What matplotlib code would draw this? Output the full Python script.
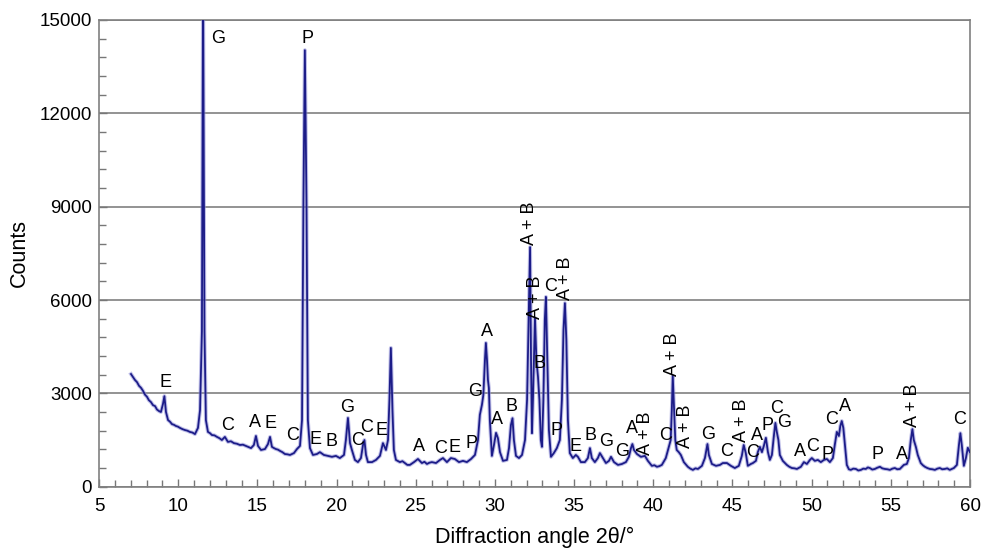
import matplotlib
matplotlib.use("Agg")
import matplotlib.pyplot as plt
from matplotlib.ticker import MultipleLocator

plt.rcParams['font.family'] = ['Liberation Sans', 'DejaVu Sans']

# diffraction pattern, traced point by point (2theta in degrees, counts)
two_theta = [
    7.02, 7.15, 7.27, 7.40, 7.53, 7.65, 7.78, 7.90, 8.03, 8.15, 8.28, 8.41, 8.54, 8.66,
    8.79, 8.91, 9.04, 9.13, 9.23, 9.36, 9.48, 9.61, 9.73,
    9.86, 9.98, 10.11, 10.27, 10.43, 10.58, 10.74, 10.90, 11.06, 11.25, 11.38, 11.50,
    11.57, 11.66, 11.75, 11.88, 12.01,
    12.13, 12.29, 12.45, 12.60, 12.76, 12.95, 13.14, 13.33, 13.52, 13.71, 13.90, 14.09,
    14.28, 14.44, 14.60, 14.78, 14.91, 15.04,
    15.23, 15.48, 15.67, 15.80, 15.92, 16.05, 16.17, 16.30, 16.43, 16.58, 16.74, 16.90,
    17.06, 17.31, 17.50, 17.69,
    17.82, 17.91, 18.00, 18.10, 18.19, 18.32, 18.51, 18.76, 18.95, 19.20, 19.46, 19.71,
    19.96, 20.21, 20.47, 20.59, 20.72, 20.85, 20.97, 21.16, 21.35, 21.54, 21.67, 21.76,
    21.86, 21.98, 22.24, 22.49, 22.74, 22.93, 23.12, 23.25, 23.34, 23.43, 23.53, 23.62,
    23.75, 24.00, 24.16, 24.32, 24.47, 24.63, 24.89, 25.14, 25.39, 25.55, 25.71, 25.86,
    26.02, 26.28, 26.53, 26.72,
    26.97, 27.22, 27.47, 27.73, 27.98, 28.23, 28.49, 28.74, 28.93, 29.05, 29.18, 29.27,
    29.37, 29.43, 29.50, 29.56, 29.62, 29.68, 29.81, 29.94, 30.07, 30.19, 30.32, 30.51,
    30.76, 30.89, 31.01, 31.11, 31.20, 31.33, 31.52, 31.71, 31.90, 32.03, 32.12, 32.22,
    32.28, 32.34, 32.40, 32.53, 32.62, 32.72, 32.81, 32.90, 32.97, 33.06, 33.15, 33.22,
    33.31, 33.41, 33.54, 33.72, 33.91, 34.10, 34.23, 34.33, 34.42, 34.51, 34.61, 34.73,
    34.92, 35.11, 35.24, 35.43, 35.68, 35.87, 36.00, 36.12, 36.31, 36.50, 36.63, 36.82,
    37.01, 37.20, 37.33, 37.52, 37.77, 38.02, 38.27, 38.46, 38.59, 38.68, 38.78, 38.97,
    39.22, 39.47, 39.66, 39.91, 40.07, 40.23, 40.38, 40.54, 40.79, 40.98, 41.10, 41.17,
    41.23, 41.29,
    41.39, 41.48, 41.61, 41.74, 41.93, 42.18, 42.34, 42.50, 42.66, 42.82, 43.07, 43.26,
    43.42, 43.51,
    43.70, 43.96, 44.21, 44.39, 44.65, 44.90, 45.15, 45.40, 45.59, 45.71, 45.84, 45.97,
    46.16, 46.29, 46.48, 46.60, 46.73, 46.86, 46.98, 47.11, 47.24, 47.36, 47.49, 47.62,
    47.71, 47.80, 47.90, 47.99, 48.18, 48.43, 48.59, 48.75, 48.91, 49.07, 49.32, 49.51,
    49.70, 49.89,
    50.01, 50.20, 50.39, 50.58, 50.77, 50.96, 51.15, 51.34, 51.46, 51.59, 51.72, 51.81,
    51.90, 52.00, 52.10, 52.22, 52.35, 52.47, 52.63, 52.79, 52.95, 53.11, 53.26, 53.42,
    53.55, 53.67, 53.83, 53.99, 54.15, 54.31, 54.46, 54.62,
    54.78, 54.94, 55.10, 55.25, 55.41, 55.57, 55.82, 56.01, 56.14, 56.26, 56.36, 56.45,
    56.58, 56.70, 56.89,
    57.02, 57.15, 57.30, 57.46, 57.62, 57.78, 57.94, 58.09, 58.25, 58.41, 58.56, 58.72,
    58.85, 58.98, 59.17, 59.30, 59.39, 59.48, 59.61,
    59.74, 59.86, 59.99,
]
counts = [
    3620, 3520, 3430, 3360, 3240, 3180, 3080, 2960, 2890, 2780, 2720, 2620, 2590, 2480,
    2430, 2400, 2660, 2910, 2400, 2140, 2090, 2010, 1990,
    1950, 1930, 1890, 1850, 1820, 1800, 1760, 1740, 1690, 1890, 2460, 5000,
    16500, 5000, 2140, 1760, 1720,
    1660, 1650, 1600, 1560, 1500, 1600, 1440, 1460, 1400, 1380, 1340, 1350,
    1310, 1280, 1240, 1340, 1630, 1310,
    1180, 1210, 1370, 1600, 1280, 1240, 1210, 1190, 1150, 1110, 1050, 1040,
    1020, 1080, 1210, 1310,
    2140, 9210, 14030, 9210, 2140, 1240, 1020, 1050, 1110, 1020, 990, 960,
    990, 920, 1020, 1500, 2210, 1400, 1180, 860, 790, 920, 1340, 1500,
    1020, 790, 790, 860, 990, 1400, 1180, 1500, 2790, 4460, 2470, 1180,
    860, 790, 820, 760, 700, 700, 790, 890, 760, 800, 730, 770,
    790, 760, 860, 920,
    790, 920, 890, 790, 830, 790, 890, 1020, 1500, 2310, 2630, 2950,
    4070, 4620, 4070, 3430, 3170, 2140, 990, 1340, 1730, 1560, 1110, 830,
    860, 1240, 1980, 2200, 1500, 990, 920, 1020, 1500, 2790, 5040, 7700,
    4070, 1720, 2790, 5420, 4070, 3530, 2790, 1500, 1280, 2790, 5350, 6100,
    4070, 1820, 960, 1080, 1240, 1500, 2790, 5040, 5900, 4720, 2140, 1080,
    920, 1020, 960, 790, 790, 920, 1240, 920, 790, 920, 1080, 920,
    760, 830, 960, 790, 700, 730, 790, 960, 1240, 1370, 1180, 1050,
    960, 990, 830, 670, 690, 640, 660, 700, 920, 1280, 1500, 2470,
    3560, 2790,
    1500, 1180, 1110, 1020, 790, 640, 580, 540, 590, 570, 670, 920,
    1370, 1020,
    730, 670, 700, 760, 760, 670, 600, 670, 990, 1340, 1080, 670,
    730, 760, 830, 1110, 1280, 1110, 1310, 1570, 1110, 860, 1020, 1660,
    2050, 1760, 1500, 1020, 830, 700, 640, 600, 590, 570, 640, 790,
    730, 860,
    920, 830, 860, 790, 860, 890, 790, 920, 1340, 1760, 1630, 1950,
    2110, 1890, 1340, 700, 560, 540, 580, 570, 520, 540, 580, 570,
    620, 600, 550, 570, 610, 640, 590, 570,
    560, 540, 580, 600, 560, 570, 700, 730, 920, 1500, 1850, 1500,
    1280, 1020, 760,
    690, 640, 600, 570, 560, 540, 580, 600, 560, 570, 590, 540,
    570, 600, 700, 1340, 1720, 1340, 670,
    920, 1250, 1110,
]

# phase labels: position (2theta, counts) and text; "A + B" is set vertically
label_x = [9.23, 12.51, 18.19, 13.14, 14.85, 15.86, 17.25, 18.70, 19.65, 20.66,
           21.35, 21.92, 22.87, 25.20, 26.59, 27.47, 28.55, 28.74, 29.49, 30.13,
           31.07, 32.21, 32.59, 32.84, 33.54, 34.48, 33.91, 35.11, 36.06, 37.01,
           38.02, 38.65, 39.53, 40.80, 41.24, 42.06, 43.45, 44.65, 45.59, 46.29,
           46.54, 47.23, 47.80, 48.24, 49.26, 50.08, 51.02, 51.28, 52.10, 54.18,
           55.69, 56.39, 59.36]
label_y = [3355, 14420, 14420, 1960, 2060, 2040, 1640, 1530, 1450, 2550,
           1480, 1910, 1820, 1290, 1230, 1270, 1400, 3060, 4980, 2150,
           2590, 8480, 6080, 3970, 6450, 6710, 1800, 1290, 1630, 1450,
           1130, 1880, 1730, 1660, 4270, 1930, 1690, 1130, 2140, 1090,
           1660, 1980, 2520, 2060, 1130, 1290, 1040, 2170, 2570, 1020,
           1020, 2630, 2170]
label_text = ['E', 'G', 'P', 'C', 'A', 'E', 'C', 'E', 'B', 'G',
              'C', 'C', 'E', 'A', 'C', 'E', 'P', 'G', 'A', 'A',
              'B', 'A + B', 'A + B', 'B', 'C', 'A + B', 'P', 'E', 'B', 'G',
              'G', 'A', 'A + B', 'C', 'A + B', 'A + B', 'G', 'C', 'A + B', 'C',
              'A', 'P', 'C', 'G', 'A', 'C', 'P', 'C', 'A', 'P',
              'A', 'A + B', 'C']

fig = plt.figure(figsize=(9.84, 5.49), dpi=100)
ax = fig.add_axes([0.1006, 0.1135, 0.8852, 0.8501])

ax.plot(two_theta, counts, color='#8c8cd6', lw=2.8, alpha=0.55, zorder=3)
ax.plot(two_theta, counts, color='#1c1c88', lw=1.3, zorder=4)

for x, y, t in zip(label_x, label_y, label_text):
    rot = 90 if '+' in t else 0
    ax.text(x, y, t, ha='center', va='center', rotation=rot, fontsize=13,
            color='black', zorder=5)

ax.set_xlim(5, 60)
ax.set_ylim(0, 15000)
ax.set_yticks([0, 3000, 6000, 9000, 12000, 15000])
ax.yaxis.set_minor_locator(MultipleLocator(600))
ax.xaxis.set_major_locator(MultipleLocator(5))
ax.xaxis.set_minor_locator(MultipleLocator(1))
ax.grid(axis='y', which='major', color='#8a8a8a', lw=1.3, zorder=1)

ax.tick_params(which='both', direction='in', color='#777777', labelsize=13.5)
ax.tick_params(which='major', length=6, width=1.0)
ax.tick_params(which='minor', length=5, width=1.0)
ax.tick_params(axis='y', pad=5)
ax.tick_params(axis='x', pad=8)

for side in ['left', 'bottom', 'right', 'top']:
    ax.spines[side].set_color('#808080')
    ax.spines[side].set_linewidth(1.2)

ax.set_xlabel('Diffraction angle 2θ/°', fontsize=15.5, labelpad=9)
ax.set_ylabel('Counts', fontsize=15.5, labelpad=7)

fig.savefig('out.png', dpi=100)
